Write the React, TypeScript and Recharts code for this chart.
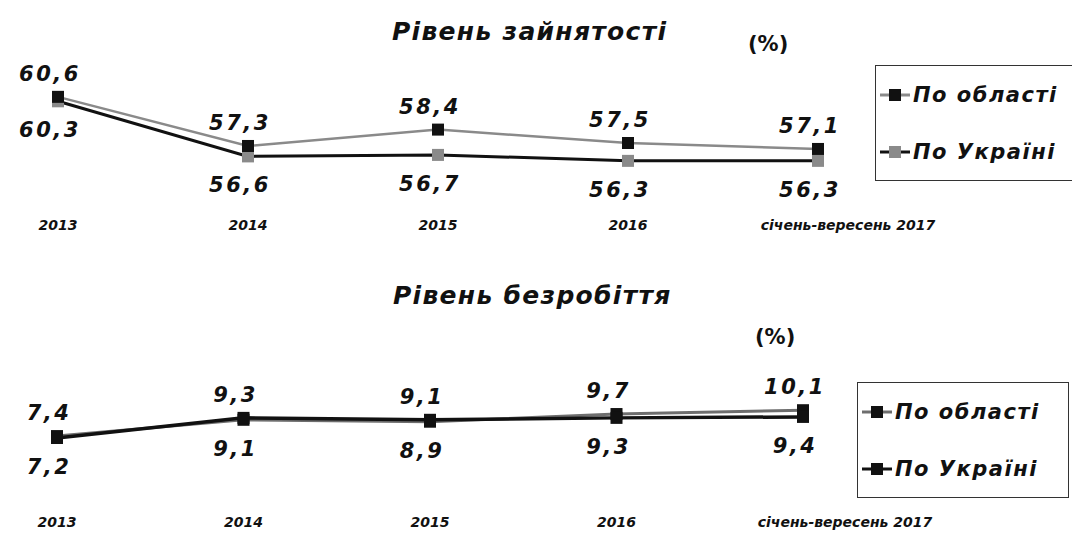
import { Legend, LabelList, Line, LineChart, XAxis, YAxis } from "recharts";

const years = ["2013", "2014", "2015", "2016", "січень-вересень 2017"];

const zaynObl = [60.6, 57.3, 58.4, 57.5, 57.1];
const zaynUkr = [60.3, 56.6, 56.7, 56.3, 56.3];

const bezrObl = [7.4, 9.1, 8.9, 9.7, 10.1];
const bezrUkr = [7.2, 9.3, 9.1, 9.3, 9.4];

const FONT = "'DejaVu Sans', Arial, sans-serif";

const zaynData = years.map((y, i) => ({ name: y, obl: zaynObl[i], ukr: zaynUkr[i] }));
const bezrData = years.map((y, i) => ({ name: y, obl: bezrObl[i], ukr: bezrUkr[i] }));

const fmt = (v: number) => v.toFixed(1).replace(".", ",");

// label goes above if this series is the bigger one at that point, else below
const makeLabel = (mine: number[], other: number[]) => (props: any) => {
  const { x, y, index } = props;
  const above = mine[index] >= other[index];
  return (
    <text
      x={x - 8}
      y={above ? y - 16 : y + 36}
      textAnchor="middle"
      fontFamily={FONT}
      fontWeight="bold"
      fontStyle="italic"
      fontSize={21}
      letterSpacing={2.5}
      fill="#111"
    >
      {fmt(mine[index])}
    </text>
  );
};

const makeTick = (lastShift: number) => (props: any) => {
  const { x, y, payload, index } = props;
  const last = index === years.length - 1;
  return (
    <text
      x={x + (last ? lastShift : 0)}
      y={y + 12}
      textAnchor="middle"
      fontFamily={FONT}
      fontWeight="bold"
      fontStyle="italic"
      fontSize={14}
      fill="#111"
    >
      {payload.value}
    </text>
  );
};

const squareDot = (color: string) => (props: any) => {
  const { cx, cy, index } = props;
  return <rect key={index} x={cx - 6} y={cy - 6} width={12} height={12} fill={color} />;
};

const LegendBox = ({ items, box }: { items: { label: string; line: string; mark: string }[]; box: any }) => (
  <div
    style={{
      position: "absolute",
      ...box,
      border: "1.5px solid #333",
      boxSizing: "border-box",
      display: "flex",
      flexDirection: "column",
      justifyContent: "space-around",
      padding: "0 2px",
    }}
  >
    {items.map((it) => (
      <div key={it.label} style={{ display: "flex", alignItems: "center", whiteSpace: "nowrap" }}>
        <svg width={34} height={14}>
          <line x1={2} y1={7} x2={32} y2={7} stroke={it.line} strokeWidth={3} />
          <rect x={11} y={1} width={12} height={12} fill={it.mark} />
        </svg>
        <span
          style={{
            fontFamily: FONT,
            fontWeight: "bold",
            fontStyle: "italic",
            fontSize: 21,
            letterSpacing: 1.5,
            color: "#111",
            marginLeft: 1,
          }}
        >
          {it.label}
        </span>
      </div>
    ))}
  </div>
);

const titleStyle: any = {
  position: "absolute",
  fontFamily: FONT,
  fontWeight: "bold",
  fontStyle: "italic",
  fontSize: 25,
  letterSpacing: 1.3,
  color: "#111",
  whiteSpace: "nowrap",
};

const pctStyle: any = {
  position: "absolute",
  fontFamily: FONT,
  fontWeight: "bold",
  fontSize: 21,
  color: "#111",
};

export default function App() {
  return (
    <div style={{ position: "relative", width: 1080, height: 545, margin: -8, background: "#fff" }}>
      <div style={{ ...titleStyle, left: 392, top: 17 }}>Рівень зайнятості</div>
      <div style={{ ...pctStyle, left: 748, top: 32 }}>(%)</div>

      <div style={{ position: "absolute", left: 0, top: 0 }}>
        <LineChart width={1080} height={240} data={zaynData} margin={{ top: 76, right: 262, left: 58, bottom: 0 }}>
          <XAxis dataKey="name" axisLine={false} tickLine={false} height={30} interval={0} tick={makeTick(30)} />
          <YAxis hide domain={[53, 62]} />
          <Legend
            verticalAlign="middle"
            layout="horizontal"
            content={() => (
              <LegendBox
                box={{ left: 875, top: 65, width: 205, height: 116 }}
                items={[
                  { label: "По області", line: "#8a8a8a", mark: "#111" },
                  { label: "По Україні", line: "#111", mark: "#8a8a8a" },
                ]}
              />
            )}
            wrapperStyle={{ left: 0, top: 0, width: 0, height: 0 }}
          />
          <Line
            dataKey="ukr"
            name="По Україні"
            stroke="#111"
            strokeWidth={3}
            dot={squareDot("#8a8a8a")}
            isAnimationActive={false}
          >
            <LabelList dataKey="ukr" content={makeLabel(zaynUkr, zaynObl)} />
          </Line>
          <Line
            dataKey="obl"
            name="По області"
            stroke="#8a8a8a"
            strokeWidth={2.5}
            dot={squareDot("#111")}
            isAnimationActive={false}
          >
            <LabelList dataKey="obl" content={makeLabel(zaynObl, zaynUkr)} />
          </Line>
        </LineChart>
      </div>

      <div style={{ ...titleStyle, left: 393, top: 281 }}>Рівень безробіття</div>
      <div style={{ ...pctStyle, left: 755, top: 325 }}>(%)</div>

      <div style={{ position: "absolute", left: 0, top: 240 }}>
        <LineChart width={1080} height={305} data={bezrData} margin={{ top: 152, right: 277, left: 57, bottom: 0 }}>
          <XAxis dataKey="name" axisLine={false} tickLine={false} height={38} interval={0} tick={makeTick(42)} />
          <YAxis hide domain={[0, 12]} />
          <Legend
            verticalAlign="middle"
            layout="horizontal"
            content={() => (
              <LegendBox
                box={{ left: 857, top: 142, width: 212, height: 116 }}
                items={[
                  { label: "По області", line: "#6e6e6e", mark: "#111" },
                  { label: "По Україні", line: "#111", mark: "#111" },
                ]}
              />
            )}
            wrapperStyle={{ left: 0, top: 0, width: 0, height: 0 }}
          />
          <Line
            dataKey="obl"
            name="По області"
            stroke="#6e6e6e"
            strokeWidth={3}
            dot={squareDot("#111")}
            isAnimationActive={false}
          >
            <LabelList dataKey="obl" content={makeLabel(bezrObl, bezrUkr)} />
          </Line>
          <Line
            dataKey="ukr"
            name="По Україні"
            stroke="#111"
            strokeWidth={3.5}
            dot={squareDot("#111")}
            isAnimationActive={false}
          >
            <LabelList dataKey="ukr" content={makeLabel(bezrUkr, bezrObl)} />
          </Line>
        </LineChart>
      </div>
    </div>
  );
}
